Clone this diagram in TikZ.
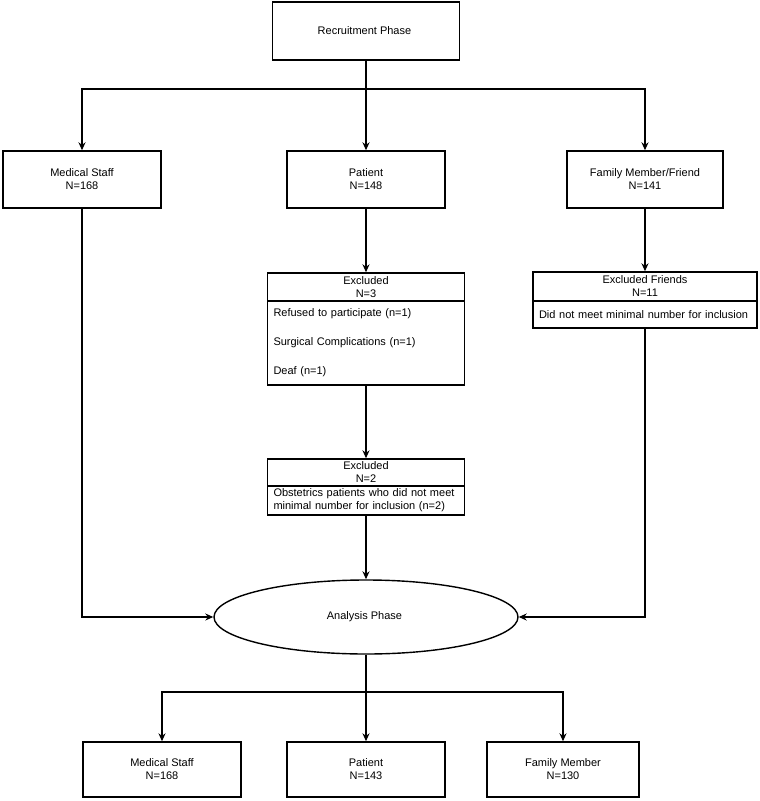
\documentclass[tikz,border=0pt]{standalone}
\usepackage{fontspec}
\setmainfont{Liberation Sans}
\usepackage{tikz}
\usetikzlibrary{arrows.meta, shapes.geometric, positioning}
\tikzset{
	boxnode/.style={
			draw=black,
			line width=1.4pt,
			fill=white,
			minimum width=158pt,
			minimum height=57pt,
			inner sep=1pt,
			align=center,
			font=\fontsize{11}{13}\selectfont
		},
	headnode/.style={
			boxnode,
			minimum height=28pt
		},
	bodynode/.style={
			boxnode,
			align=left,
			inner xsep=6pt
		},
	phasenode/.style={
			boxnode,
			ellipse,
			minimum width=304pt,
			minimum height=74pt,
			inner sep=0pt
		},
	flow/.style={
			line width=1.4pt,
			-{Stealth[length=8pt,width=7pt]}
		},
	flowline/.style={
			line width=1.4pt
		}
}

\begin{document}
\begin{tikzpicture}[x=1pt, y=-1pt]
\useasboundingbox (0,0) rectangle (760,801);
\node[boxnode, minimum width=187pt, minimum height=58pt] (recruit) at (366,31)  { Recruitment Phase };

\node[boxnode] (ms) at (82,179.5)  { Medical Staff\\N=168 };
\node[boxnode] (pat) at (366,179.5)  { Patient\\N=148 };
\node[boxnode, minimum width=156pt] (fam) at (645,179.5)  { Family Member/Friend\\N=141 };

\node[headnode, minimum width=197pt] (ex1hdr) at (366,287)  { Excluded\\N=3 };
\node[bodynode, text width=185pt, minimum height=84pt, font=\fontsize{11}{29}\selectfont,
  below=-1.4pt of ex1hdr] (ex1body)
  { Refused to participate (n=1)\\Surgical Complications (n=1)\\Deaf (n=1) };

\node[headnode, minimum width=224pt, minimum height=29pt] (exfhdr) at (645,286.5)  { Excluded Friends\\N=11 };
\node[bodynode, text width=212pt, minimum height=27pt, below=-1.4pt of exfhdr] (exfbody)
  { Did not meet minimal number for inclusion };

\node[headnode, minimum width=197pt, minimum height=27pt] (ex2hdr) at (366,472.5)  { Excluded\\N=2 };
\node[bodynode, text width=185pt, minimum height=29pt, below=-1.4pt of ex2hdr] (ex2body)
  { Obstetrics patients who did not meet\\minimal number for inclusion (n=2) };

\node[phasenode] (analysis) at (366,617)  { Analysis Phase };

\node[boxnode, minimum height=55pt] (ms2) at (162,769.5)  { Medical Staff\\N=168 };
\node[boxnode, minimum height=55pt] (pat2) at (366,769.5)  { Patient\\N=143 };
\node[boxnode, minimum width=152pt, minimum height=55pt] (fam2) at (563,769.5)  { Family Member\\N=130 };

\coordinate (split1) at (366,89);
\coordinate (split2) at (366,692);

\draw[flowline] (recruit) -- (split1);
\draw[flow] (split1) -| (ms.north);
\draw[flow] (split1) -| (fam.north);
\draw[flow] (recruit) -- (pat);

\draw[flow] (pat) -- (ex1hdr);
\draw[flow] (fam) -- (exfhdr);
\draw[flow] (ex1body) -- (ex2hdr);
\draw[flow] (ex2body) -- (analysis);

\draw[flow] (ms.south) |- (analysis.west);
\draw[flow] (exfbody.south) |- (analysis.east);

\draw[flowline] (analysis) -- (split2);
\draw[flow] (split2) -| (ms2.north);
\draw[flow] (split2) -| (fam2.north);
\draw[flow] (split2) -- (pat2);

\end{tikzpicture}
\end{document}
